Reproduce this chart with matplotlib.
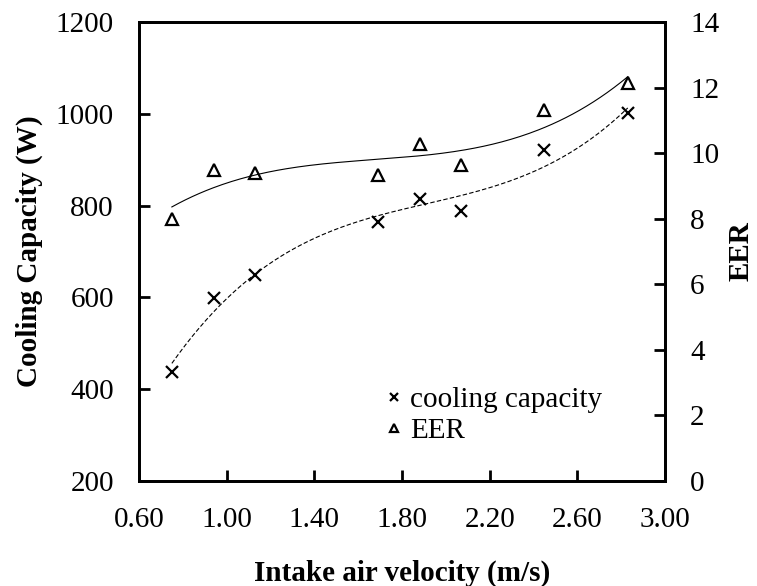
import matplotlib
matplotlib.use('Agg')
import matplotlib.pyplot as plt
import numpy as np

# intake air velocity (m/s)
velocity = [0.75, 0.94, 1.13, 1.69, 1.88, 2.07, 2.45, 2.83]
# cooling capacity (W)
cooling = [437, 598, 649, 765, 814, 789, 920, 1001]
# energy efficiency ratio
eer = [7.98, 9.50, 9.38, 9.33, 10.27, 9.65, 11.31, 12.14]

plt.rcParams['font.family'] = 'Liberation Serif'
plt.rcParams['font.size'] = 21

fig = plt.figure(figsize=(7.57, 5.86), dpi=100)
ax1 = fig.add_axes([0.1836, 0.1792, 0.6949, 0.7833])
ax2 = ax1.twinx()

x = np.array(velocity)
xs = np.linspace(x.min(), x.max(), 200)

# cubic trend lines like the spreadsheet version
c_fit = np.polyfit(x, cooling, 3)
e_fit = np.polyfit(x, eer, 3)

ax1.plot(xs, np.polyval(c_fit, xs), color='black', linestyle=(0, (4, 2)), linewidth=0.8)
ax2.plot(xs, np.polyval(e_fit, xs), color='black', linestyle='-', linewidth=0.8)

h1, = ax1.plot(velocity, cooling, 'x', color='black', markersize=8, markeredgewidth=1.6,
               label='cooling capacity')
h2, = ax2.plot(velocity, eer, '^', color='black', markerfacecolor='none', markersize=8,
               markeredgewidth=1.6, label='EER')

ax1.set_xlim(0.6, 3.0)
ax1.set_ylim(200, 1200)
ax2.set_ylim(0, 14)
ax1.set_xticks(np.arange(0.6, 3.01, 0.4))
ax1.set_xticklabels(['%.2f' % t for t in np.arange(0.6, 3.01, 0.4)])
ax1.set_yticks(range(200, 1201, 200))
ax2.set_yticks(range(0, 15, 2))

for ax in (ax1, ax2):
    for s in ax.spines.values():
        s.set_linewidth(2)
    ax.tick_params(direction='in', length=8, width=2, pad=18)
ax1.tick_params(axis='x', pad=19)

ax1.set_xlabel('Intake air velocity (m/s)', fontweight='bold', labelpad=19)
ax1.set_ylabel('Cooling Capacity (W)', fontweight='bold', labelpad=9)
ax2.set_ylabel('EER', fontweight='bold', labelpad=6)

ax1.legend(handles=[h1, h2], loc='upper left', bbox_to_anchor=(0.468, 0.205), frameon=False,
           handlelength=0.6, handletextpad=0.25, labelspacing=0.15, markerscale=0.75,
           borderpad=0, borderaxespad=0)

fig.savefig('out.png', dpi=100)
